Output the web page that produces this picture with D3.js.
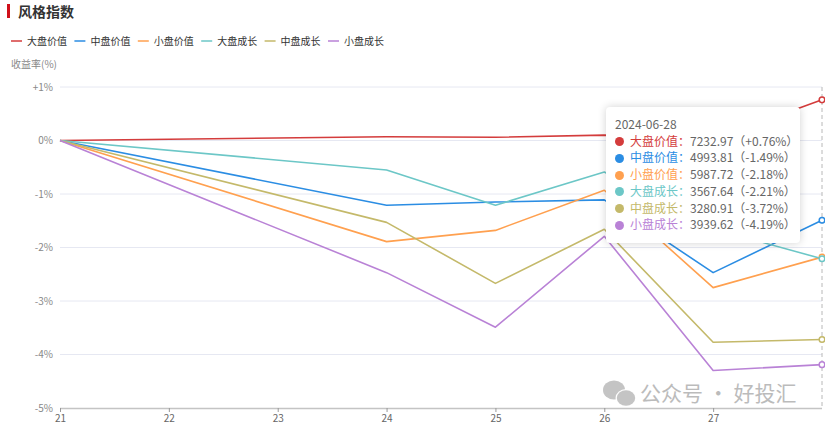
<!DOCTYPE html>
<html><head><meta charset="utf-8">
<script src="https://cdn.jsdelivr.net/npm/d3@7"></script>
<style>
html,body{margin:0;padding:0;background:#fff;}
body{width:825px;height:426px;overflow:hidden;position:relative;font-family:"Noto Sans CJK SC","Noto Sans",sans-serif;}
#tip{position:absolute;left:606px;top:107px;width:194px;height:136px;background:#fff;border-radius:4px;box-shadow:0 0 8px rgba(0,0,0,0.18);box-sizing:border-box;padding:9px 0 0 9px;font-size:12px;color:#666;line-height:16.7px;}
#tip .row{white-space:nowrap;}
#tip .dot{display:inline-block;width:9px;height:9px;border-radius:50%;margin-right:6px;vertical-align:-0.5px;}
</style></head>
<body>
<svg id="chart" width="825" height="426"></svg>
<div id="tip"></div>
<script>
const days = [21, 24, 25, 26, 27, 28];
const seriesNames = ["大盘价值", "中盘价值", "小盘价值", "大盘成长", "中盘成长", "小盘成长"];
const colors = ["#d43c3c", "#2b8de3", "#ffa04f", "#6cc7c7", "#c4b96a", "#b982d6"];
const s1 = [0, 0.07, 0.06, 0.10, 0.02, 0.76];
const s2 = [0, -1.21, -1.15, -1.11, -2.47, -1.49];
const s3 = [0, -1.89, -1.68, -0.93, -2.75, -2.18];
const s4 = [0, -0.55, -1.21, -0.59, -1.65, -2.21];
const s5 = [0, -1.53, -2.67, -1.66, -3.77, -3.72];
const s6 = [0, -2.47, -3.49, -1.79, -4.30, -4.19];
const seriesValues = [s1, s2, s3, s4, s5, s6];
const xTicks = [21, 22, 23, 24, 25, 26, 27];
const yTicks = [1, 0, -1, -2, -3, -4, -5];
const yTickLabels = ["+1%", "0%", "-1%", "-2%", "-3%", "-4%", "-5%"];
const tipDate = "2024-06-28";
const tipIndex = [7232.97, 4993.81, 5987.72, 3567.64, 3280.91, 3939.62];
const tipPct = ["+0.76%", "-1.49%", "-2.18%", "-2.21%", "-3.72%", "-4.19%"];

const svg = d3.select("#chart");
const font = '"Noto Sans CJK SC","Noto Sans",sans-serif';
const L = 60, R = 822, T = 87, B = 408;
const x = d3.scaleLinear().domain([21, 28]).range([L, R]);
const y = d3.scaleLinear().domain([-5, 1]).range([B, T]);

// title
svg.append("rect").attr("x", 7).attr("y", 4).attr("width", 3).attr("height", 14).attr("fill", "#d0101b");
svg.append("text").attr("x", 18).attr("y", 16.5).attr("font-size", 14).attr("font-weight", "bold")
  .attr("font-family", font).attr("fill", "#333").text("风格指数");

// legend
const lg = svg.append("g");
seriesNames.forEach((n, i) => {
  const gx = 11 + i * 63.4;
  lg.append("line").attr("x1", gx).attr("x2", gx + 11).attr("y1", 41).attr("y2", 41)
    .attr("stroke", colors[i]).attr("stroke-width", 1.5);
  lg.append("text").attr("x", gx + 16).attr("y", 44.5).attr("font-size", 10).attr("font-family", font)
    .attr("fill", "#333").text(n);
});

svg.append("text").attr("x", 11).attr("y", 67.5).attr("font-size", 10).attr("font-family", font)
  .attr("fill", "#888").text("收益率(%)");

// grid
const grid = svg.append("g");
yTicks.filter(v => v !== -5).forEach(v => {
  grid.append("line").attr("x1", L).attr("x2", R).attr("y1", y(v)).attr("y2", y(v))
    .attr("stroke", "#e6e8f2").attr("stroke-width", 1);
});

// y axis labels
const yAxis = d3.axisLeft(y).tickValues(yTicks).tickSize(0).tickPadding(7)
  .tickFormat((d, i) => yTickLabels[i]);
const ya = svg.append("g").attr("transform", `translate(${L},0)`).call(yAxis);
ya.select(".domain").remove();
ya.selectAll("text").attr("font-size", 10).attr("font-family", font).attr("fill", "#888");

// x axis
const xAxis = d3.axisBottom(x).tickValues(xTicks).tickSize(4).tickPadding(3).tickFormat(d3.format("d"));
const xa = svg.append("g").attr("transform", `translate(0,${B})`).call(xAxis);
xa.select(".domain").attr("stroke", "#c4c4c4").attr("stroke-width", 1.5).attr("d", `M${L},0.5H${R}`);
xa.selectAll(".tick line").attr("stroke", "#999");
xa.selectAll("text").attr("font-size", 10).attr("font-family", font).attr("fill", "#666");

// axis pointer
svg.append("line").attr("x1", x(28)).attr("x2", x(28)).attr("y1", T).attr("y2", B)
  .attr("stroke", "#b8b8b8").attr("stroke-width", 1).attr("stroke-dasharray", "4,3");

// watermark
const wm = svg.append("g").attr("opacity", 0.5);
wm.append("ellipse").attr("cx", 614).attr("cy", 390).attr("rx", 11).attr("ry", 9.5).attr("fill", "#8a8a8a");
wm.append("ellipse").attr("cx", 626).attr("cy", 398).attr("rx", 10.5).attr("ry", 9).attr("fill", "#fff");
wm.append("ellipse").attr("cx", 626).attr("cy", 398).attr("rx", 9.2).attr("ry", 7.8).attr("fill", "#8a8a8a");
wm.append("text").attr("x", 640).attr("y", 400.5).attr("font-size", 21).attr("font-family", font)
  .attr("fill", "#7a7a7a").text("公众号 · 好投汇");

// lines
const line = d3.line().x((d, i) => x(days[i])).y(d => y(d));
seriesValues.forEach((vals, i) => {
  svg.append("path").datum(vals).attr("d", line).attr("fill", "none")
    .attr("stroke", colors[i]).attr("stroke-width", 1.6).attr("stroke-linejoin", "round");
});
seriesValues.forEach((vals, i) => {
  const last = vals.length - 1;
  svg.append("circle").attr("cx", x(days[last])).attr("cy", y(vals[last])).attr("r", 2.8)
    .attr("fill", "#fff").attr("stroke", colors[i]).attr("stroke-width", 1.5);
});

// tooltip
const tip = d3.select("#tip");
tip.append("div").attr("class", "row").text(tipDate);
seriesNames.forEach((n, i) => {
  const r = tip.append("div").attr("class", "row");
  r.append("span").attr("class", "dot").style("background", colors[i]);
  r.append("span").style("color", colors[i]).text(n + "：");
  r.append("span").text(tipIndex[i].toFixed(2) + "（" + tipPct[i] + "）");
});
</script>
</body></html>
